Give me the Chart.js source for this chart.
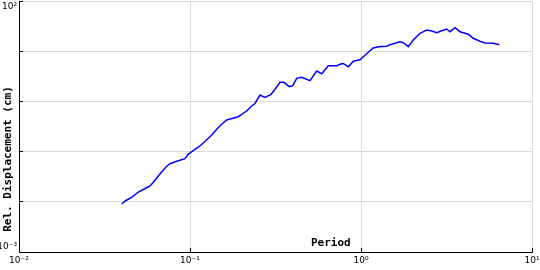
<!DOCTYPE html>
<html>
<head>
<meta charset="utf-8">
<script src="https://cdn.jsdelivr.net/npm/chart.js@4.4.1/dist/chart.umd.min.js"></script>
<style>
  html, body { margin: 0; padding: 0; background: #fff; }
</style>
</head>
<body>
<canvas id="myChart" width="540" height="270"></canvas>
<script>
// Spectrum values
const periods = [0.0399, 0.0422, 0.0456, 0.0499, 0.0546, 0.0584, 0.0616, 0.0653, 0.0686, 0.0729,
  0.0764, 0.0836, 0.0935, 0.0978, 0.1045, 0.1144, 0.124, 0.1339, 0.1438, 0.1532,
  0.1639, 0.176, 0.1916, 0.2041, 0.2146, 0.2274, 0.2399, 0.2567, 0.2746, 0.2977,
  0.3142, 0.336, 0.3545, 0.3808, 0.3987, 0.4207, 0.4498, 0.4769, 0.5033, 0.5507,
  0.5891, 0.6438, 0.7211, 0.7537, 0.788, 0.8427, 0.9016, 0.9867, 1.103, 1.18,
  1.262, 1.413, 1.478, 1.58, 1.691, 1.768, 1.891, 2.022, 2.213, 2.422,
  2.592, 2.772, 2.964, 3.171, 3.315, 3.545, 3.793, 4.057, 4.242, 4.537,
  4.965, 5.31, 5.937, 6.439];
const displacement = [0.00904, 0.01062, 0.0123, 0.01567, 0.01841, 0.02065, 0.02537, 0.03266, 0.04018, 0.05047,
  0.05741, 0.06412, 0.07224, 0.08954, 0.1042, 0.1294, 0.1665, 0.2142, 0.2818, 0.3499,
  0.4259, 0.4565, 0.4957, 0.5741, 0.6442, 0.7908, 0.9079, 1.34, 1.196, 1.372,
  1.742, 2.401, 2.401, 1.963, 2.054, 2.885, 3.02, 2.793, 2.585, 4.033,
  3.563, 5.143, 5.143, 5.483, 5.689, 4.89, 6.32, 6.772, 9.551, 11.58,
  12.24, 12.52, 13.48, 14.37, 15.46, 14.77, 12.29, 16.72, 22.73, 26.44,
  25.26, 23.36, 25.6, 27.69, 24.45, 29.39, 24.45, 22.73, 21.71, 18.07,
  15.75, 14.57, 14.37, 13.48];

const xDecades = [0.01, 0.1, 1, 10];
const yDecades = [0.001, 0.01, 0.1, 1, 10, 100];
const xTickLabels = ['10\u207B\u00B2', '10\u207B\u00B9', '10\u2070', '10\u00B9'];
const yTickLabels = ['10\u207B\u00B3', '', '', '', '', '10\u00B2'];
const xTitle = 'Period';
const yTitle = 'Rel. Displacement (cm)';

// axis titles sit inside the frame, like the original plot
const axisTitles = {
  id: 'axisTitles',
  afterDraw(c) {
    const g = c.ctx;
    g.save();
    g.fillStyle = '#000';
    g.font = 'bold 11px "DejaVu Sans Mono"';
    g.textAlign = 'left';
    g.textBaseline = 'alphabetic';
    g.fillText(xTitle, 311, 246);
    g.translate(8, 159);
    g.rotate(-Math.PI / 2);
    g.textAlign = 'center';
    g.textBaseline = 'middle';
    g.fillText(yTitle, 0, 0);
    g.restore();
  }
};

const tickFont = {family: 'DejaVu Sans', size: 9};

var ctx = document.getElementById('myChart').getContext('2d');
var chart = new Chart(ctx, {
  type: 'line',
  data: {
    datasets: [{
      data: periods.map((p, i) => ({x: p, y: displacement[i]})),
      borderColor: '#0000ff',
      borderWidth: 1.5,
      pointRadius: 0,
      fill: false,
      tension: 0
    }]
  },
  options: {
    responsive: false,
    animation: false,
    layout: {padding: {top: 1, right: 8, left: 0, bottom: 0}},
    plugins: {legend: {display: false}, tooltip: {enabled: false}},
    scales: {
      x: {
        type: 'logarithmic',
        min: 0.01,
        max: 10,
        afterBuildTicks: s => { s.ticks = xDecades.map(v => ({value: v})); },
        afterFit: s => { s.height = 18; s.paddingLeft = 0; s.paddingRight = 0; },
        // negative tick length -> short black ticks pointing into the plot
        grid: {color: '#d9d9d9', drawTicks: true, tickLength: -4, tickColor: '#000'},
        border: {color: '#000'},
        ticks: {
          autoSkip: false, maxRotation: 0, padding: 7, color: '#000', font: tickFont,
          callback: (v, i) => xTickLabels[i]
        }
      },
      y: {
        type: 'logarithmic',
        min: 0.001,
        max: 100,
        afterBuildTicks: s => { s.ticks = yDecades.map(v => ({value: v})); },
        afterFit: s => { s.width = 19; s.paddingTop = 0; s.paddingBottom = 0; },
        grid: {color: '#d9d9d9', drawTicks: true, tickLength: -4, tickColor: '#000'},
        border: {color: '#000'},
        ticks: {
          autoSkip: false, padding: 6, color: '#000', font: tickFont,
          callback: (v, i) => {
            if (i === 0) return [yTickLabels[i], ''];
            if (i === yDecades.length - 1) return ['', yTickLabels[i]];
            return yTickLabels[i];
          }
        }
      }
    }
  },
  plugins: [axisTitles]
});
</script>
</body>
</html>
